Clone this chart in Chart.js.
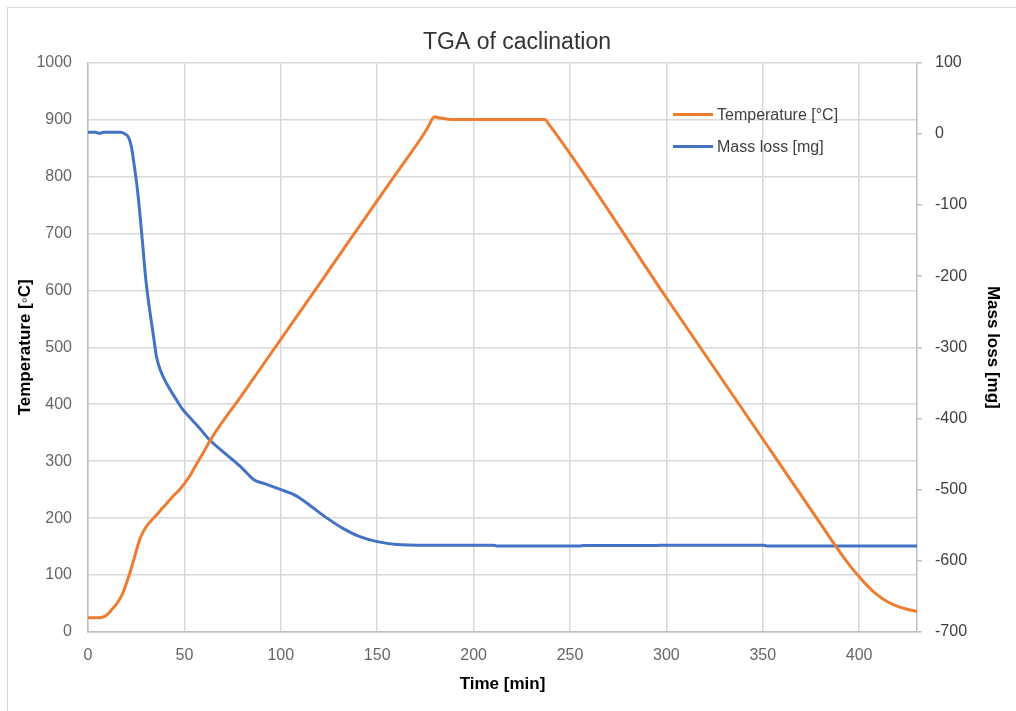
<!DOCTYPE html>
<html>
<head>
<meta charset="utf-8">
<title>TGA of caclination</title>
<script src="https://cdn.jsdelivr.net/npm/chart.js@4.4.1/dist/chart.umd.min.js"></script>
<style>
  html, body { margin: 0; padding: 0; background: #fff; }
  #wrap { position: relative; width: 1016px; height: 711px; overflow: hidden; }
  #frame { position: absolute; left: 7px; top: 7px; width: 1030px; height: 730px;
           border: 1px solid #d9d9d9; pointer-events: none; }
</style>
</head>
<body>
<div id="wrap">
  <canvas id="tga" width="1016" height="711"></canvas>
  <div id="frame"></div>
</div>
<script>
// temperature programme
var tempTime = [0, 6, 9, 12, 15, 18, 21, 24, 27, 30, 34, 39, 44, 48, 52, 56, 60, 64,
  80, 100, 120, 140, 160, 175, 177, 178.5, 180, 182, 186, 190, 237, 239,
  300, 350, 380, 388, 392, 396, 400, 404, 408, 412, 416, 420, 425, 430];
var tempValues = [25, 25, 28, 38, 50, 68, 96, 130, 164, 184, 200, 219, 238, 252, 270, 293, 316, 340,
  417, 514, 611, 709, 806, 879, 891, 901, 905, 903, 901, 900, 900, 892,
  587, 339, 190, 150, 131, 113, 97, 82, 69, 59, 51, 45, 40, 36];

// mass loss
var massTime = [0, 4, 6, 8, 12, 17, 19, 21, 22.5, 24, 25.5, 27, 28.5, 30, 32, 34, 35.5, 37.5, 41,
  45, 49, 54, 58, 63, 68, 75, 80, 86, 92, 100, 106, 110, 116, 124, 132, 141, 150, 160, 175,
  210, 212, 255, 257, 295, 297, 350, 352, 430];
var massValues = [2, 2, 0.5, 2, 2, 2, 0, -5, -18, -45, -75, -115, -160, -205, -248, -285, -313, -332, -352,
  -370, -387, -402, -414, -430, -442, -458, -470, -486, -492, -500, -506, -512, -524, -540, -554, -566, -573, -577, -578,
  -578, -579, -579, -578.5, -578.5, -578, -578, -579, -579];

var seriesLabels = ['Temperature [°C]', 'Mass loss [mg]'];
var seriesColors = ['#ed7d31', '#4472c4'];

var xTitle = 'Time [min]';
var yTitle = 'Temperature [◦C]';
var y2Title = 'Mass loss [mg]';

function pairs(xs, ys) {
  return xs.map(function (x, i) { return { x: x, y: ys[i] }; });
}

function plain(v) { return String(v); }

Chart.defaults.font.family = "'Liberation Sans', Arial, sans-serif";

var insideLegend = {
  id: 'insideLegend',
  afterDraw: function (chart, args, opts) {
    var ctx = chart.ctx, area = chart.chartArea;
    ctx.save();
    ctx.font = '16px ' + Chart.defaults.font.family;
    ctx.textBaseline = 'middle';
    chart.data.datasets.forEach(function (ds, i) {
      var x = area.right + opts.dx, y = area.top + opts.dy + i * opts.gap;
      ctx.strokeStyle = ds.borderColor;
      ctx.lineWidth = 3;
      ctx.beginPath();
      ctx.moveTo(x, y);
      ctx.lineTo(x + opts.lineLen, y);
      ctx.stroke();
      ctx.fillStyle = '#404040';
      ctx.fillText(ds.label, x + opts.lineLen + 4, y + 1);
    });
    ctx.restore();
  }
};

var gridColor = '#d9d9d9';
var axisColor = '#bfbfbf';

new Chart(document.getElementById('tga').getContext('2d'), {
  type: 'line',
  data: {
    datasets: [{
      label: seriesLabels[0],
      data: pairs(tempTime, tempValues),
      borderColor: seriesColors[0],
      backgroundColor: seriesColors[0],
      borderWidth: 3,
      pointRadius: 0,
      cubicInterpolationMode: 'monotone',
      yAxisID: 'y'
    }, {
      label: seriesLabels[1],
      data: pairs(massTime, massValues),
      borderColor: seriesColors[1],
      backgroundColor: seriesColors[1],
      borderWidth: 3,
      pointRadius: 0,
      cubicInterpolationMode: 'monotone',
      yAxisID: 'y2'
    }]
  },
  options: {
    responsive: false,
    animation: false,
    layout: { padding: { left: 31, right: 13, top: 17, bottom: 16 } },
    plugins: {
      legend: { display: false },
      tooltip: { enabled: false },
      title: {
        display: true,
        text: 'TGA of caclination',
        color: '#333',
        font: { size: 23, weight: 'normal' },
        padding: { top: 12, bottom: 6 }
      },
      insideLegend: { dx: -244, dy: 52, gap: 32, lineLen: 40 }
    },
    scales: {
      x: {
        type: 'linear',
        min: 0,
        max: 430,
        ticks: { stepSize: 50, includeBounds: false, color: '#666', font: { size: 16 }, padding: 14, callback: plain },
        grid: { color: gridColor, lineWidth: 1.5, drawTicks: false },
        border: { color: axisColor, width: 1.5 },
        title: { display: true, text: xTitle, color: '#000', font: { size: 17, weight: 'bold' }, padding: 0 },
        afterFit: function (s) { s.height = 63; }
      },
      y: {
        position: 'left',
        min: 0,
        max: 1000,
        ticks: { stepSize: 100, color: '#666', font: { size: 16 }, padding: 16, callback: plain },
        grid: { color: gridColor, lineWidth: 1.5, drawTicks: false },
        border: { color: axisColor, width: 1.5 },
        title: { display: true, text: yTitle, color: '#000', font: { size: 17, weight: 'bold' }, padding: { top: -16, bottom: 0 } },
        afterFit: function (s) { s.width = 57; }
      },
      y2: {
        position: 'right',
        min: -700,
        max: 100,
        ticks: { stepSize: 100, color: '#404040', font: { size: 16 }, padding: 13, callback: plain },
        grid: { drawOnChartArea: false, drawTicks: true, tickLength: 5, color: axisColor, lineWidth: 1.5 },
        border: { color: axisColor, width: 1.5 },
        title: { display: true, text: y2Title, color: '#000', font: { size: 17, weight: 'bold' }, padding: 0 },
        afterFit: function (s) { s.width = 86; }
      }
    }
  },
  plugins: [insideLegend]
});
</script>
</body>
</html>
